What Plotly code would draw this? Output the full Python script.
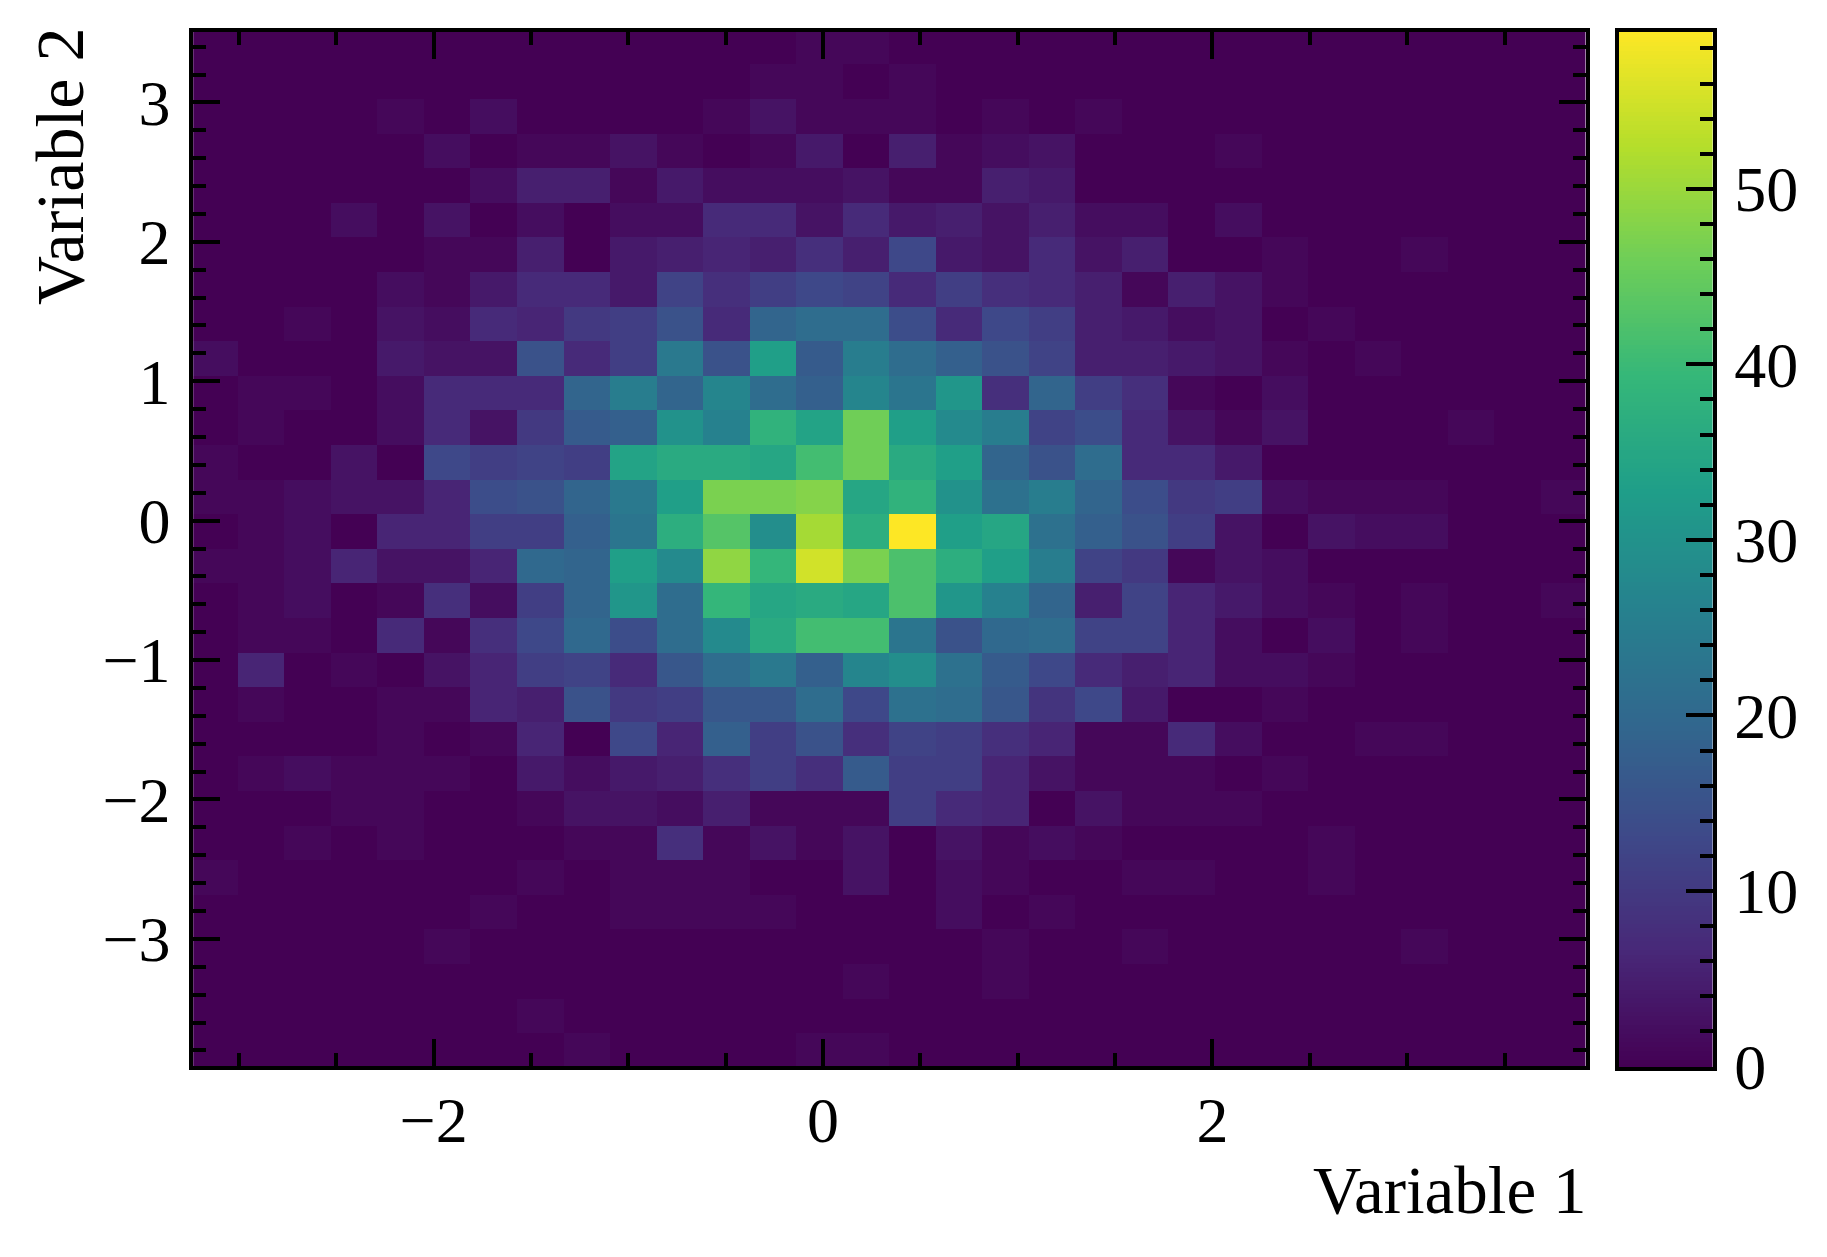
import numpy as np
import plotly.graph_objects as go

# Bin counts, listed from the top row of the picture to the bottom row
counts_top_down = [
    [0,0,0,0,0,0,0,0,0,0,0,0,0,1,1,0,0,0,0,0,0,0,0,0,0,0,0,0,0,0],
    [0,0,0,0,0,0,0,0,0,0,0,0,1,1,0,1,0,0,0,0,0,0,0,0,0,0,0,0,0,0],
    [0,0,0,0,1,0,2,0,0,0,0,1,3,1,1,1,0,1,0,1,0,0,0,0,0,0,0,0,0,0],
    [0,0,0,0,0,2,0,1,1,3,1,0,1,4,0,5,1,2,3,0,0,0,1,0,0,0,0,0,0,0],
    [0,0,0,0,0,0,2,5,5,1,4,2,2,2,3,1,1,5,4,0,0,0,0,0,0,0,0,0,0,0],
    [0,0,0,2,0,3,0,2,0,2,2,7,7,3,7,4,5,3,5,2,2,0,2,0,0,0,0,0,0,0],
    [0,0,0,0,0,1,1,5,0,4,5,6,5,8,5,13,4,3,7,3,5,0,0,1,0,0,1,0,0,0],
    [0,0,0,0,2,1,4,7,7,4,12,8,11,13,12,7,11,8,7,5,1,5,3,1,0,0,0,0,0,0],
    [0,0,1,0,3,2,7,6,10,11,15,7,19,21,21,14,7,13,11,5,4,2,3,0,1,0,0,0,0,0],
    [2,0,0,0,4,3,3,15,7,11,24,15,33,17,25,21,18,15,12,5,5,4,3,1,0,1,0,0,0,0],
    [0,1,1,0,2,7,7,7,19,25,19,27,21,18,27,23,31,8,19,11,8,1,0,2,0,0,0,0,0,0],
    [0,1,0,0,2,7,3,10,17,18,30,26,38,34,46,33,28,25,12,14,7,3,1,3,0,0,0,1,0,0],
    [1,0,0,3,0,13,11,12,11,34,36,36,35,41,46,36,33,19,15,21,7,7,4,0,0,0,0,0,0,0],
    [1,1,2,3,3,6,14,15,19,24,33,47,47,48,35,38,30,22,25,19,14,10,11,2,1,1,1,0,0,1],
    [0,1,2,0,6,6,11,11,18,23,37,43,29,51,37,59,33,35,22,18,15,11,3,0,3,2,2,0,0,0],
    [1,1,2,6,3,3,6,20,19,33,28,49,39,55,47,42,37,33,25,12,10,1,3,2,0,0,0,0,0,0],
    [0,1,2,0,1,8,2,11,19,31,21,39,35,36,35,42,31,26,19,5,12,6,4,2,1,0,1,0,0,1],
    [0,1,1,0,7,1,8,13,20,14,21,28,36,41,41,23,15,20,21,12,12,6,2,0,2,0,1,0,0,0],
    [0,6,0,1,0,3,6,11,12,7,16,21,24,18,27,29,22,17,13,7,5,6,2,2,1,0,0,0,0,0],
    [0,1,0,0,1,1,6,5,15,10,11,16,16,21,13,22,21,16,9,13,4,0,0,1,0,0,0,0,0,0],
    [0,0,0,0,1,0,1,6,0,13,6,18,11,15,8,12,11,8,6,1,1,7,2,0,0,1,1,0,0,0],
    [0,1,2,1,1,1,0,4,2,4,5,8,11,8,17,11,11,6,3,1,1,1,0,1,0,0,0,0,0,0],
    [0,0,0,1,1,0,0,1,3,3,2,5,1,1,1,11,7,6,0,3,1,1,1,0,0,0,0,0,0,0],
    [0,0,1,0,1,0,0,0,1,1,8,1,3,1,3,0,3,1,2,1,0,0,0,0,1,0,0,0,0,0],
    [1,0,0,0,0,0,0,1,0,1,1,1,0,0,3,0,2,1,0,0,1,1,0,0,1,0,0,0,0,0],
    [0,0,0,0,0,0,1,0,0,1,1,1,1,0,0,0,2,0,1,0,0,0,0,0,0,0,0,0,0,0],
    [0,0,0,0,0,1,0,0,0,0,0,0,0,0,0,0,0,1,0,0,1,0,0,0,0,0,1,0,0,0],
    [0,0,0,0,0,0,0,0,0,0,0,0,0,0,1,0,0,1,0,0,0,0,0,0,0,0,0,0,0,0],
    [0,0,0,0,0,0,0,1,0,0,0,0,0,0,0,0,0,0,0,0,0,0,0,0,0,0,0,0,0,0],
    [0,0,0,0,0,0,0,0,1,0,0,0,0,1,1,0,0,0,0,0,0,0,0,0,0,0,0,0,0,0],
]
counts = counts_top_down[::-1]

x_edges = np.linspace(-3.245, 3.925, 31)
y_edges = np.linspace(-3.927, 3.521, 31)
z_max = 59
colorbar_levels = np.linspace(0, z_max, 237)

x_title = "Variable 1"
y_title = "Variable 2"
FONT = "Liberation Serif"
FS = 64
W, H = 1827, 1257
LW = 3.8


def xd(a, b):
    return [a / W, b / W]


def yd(top, bottom):
    return [1 - bottom / H, 1 - top / H]


fig = go.Figure()
fig.add_trace(go.Heatmap(z=counts, x=x_edges, y=y_edges, colorscale="Viridis",
                         zmin=0, zmax=z_max, showscale=False, xaxis="x", yaxis="y"))
fig.add_trace(go.Heatmap(z=[[v] for v in colorbar_levels], x=[0, 1],
                         y=np.append(colorbar_levels, z_max + 0.25) - 0.125,
                         colorscale="Viridis", zmin=0, zmax=z_max, showscale=False,
                         xaxis="x2", yaxis="y2", hoverinfo="skip"))

common = dict(showgrid=False, zeroline=False, showline=True, linecolor="black", linewidth=LW,
              ticks="inside", tickcolor="black", tickwidth=LW, ticklen=27,
              tickfont=dict(family=FONT, size=FS, color="black"))

fig.update_layout(
    width=W, height=H, margin=dict(l=0, r=0, t=0, b=0, pad=0, autoexpand=False),
    paper_bgcolor="white", plot_bgcolor="white", showlegend=False,
    font=dict(family=FONT, size=FS, color="black"),
    xaxis=dict(domain=xd(193.2, 1585.5), range=[-3.235, 3.916], anchor="y", mirror="ticks",
               tick0=0, dtick=2, ticklabelstandoff=-5,
               minor=dict(tick0=0, dtick=0.5, ticks="inside", ticklen=13, tickwidth=LW,
                          tickcolor="black", showgrid=False), **common),
    yaxis=dict(domain=yd(31.6, 1066), range=[-3.912, 3.508], anchor="x", mirror="ticks",
               tick0=0, dtick=1, ticklabelstandoff=6,
               minor=dict(tick0=0, dtick=0.2, ticks="inside", ticklen=13, tickwidth=LW,
                          tickcolor="black", showgrid=False), **common),
    xaxis2=dict(domain=xd(1619, 1712.6), range=[0, 1], anchor="y2", showticklabels=False,
                showgrid=False, zeroline=False, showline=True, linecolor="black",
                linewidth=LW, ticks="", mirror=True),
    yaxis2=dict(domain=yd(31.6, 1067), range=[-0.03, 58.96], anchor="x2", side="right", mirror=True,
                tick0=0, dtick=10, ticklabelstandoff=5,
                minor=dict(tick0=0, dtick=2, ticks="inside", ticklen=13, tickwidth=LW,
                           tickcolor="black", showgrid=False), **common),
    annotations=[
        dict(text=x_title, xref="paper", yref="paper", x=1588 / W, y=1 - 1229 / H,
             xanchor="right", yanchor="bottom", showarrow=False,
             font=dict(family=FONT, size=67, color="black")),
        dict(text=y_title, xref="paper", yref="paper", x=60 / W, y=1 - 25 / H,
             xanchor="center", yanchor="top", textangle=-90, showarrow=False,
             font=dict(family=FONT, size=68, color="black")),
    ],
)

fig.write_html("out.html", config={"displayModeBar": False},
               post_script='document.body.style.margin="0";document.body.style.overflow="hidden";')
